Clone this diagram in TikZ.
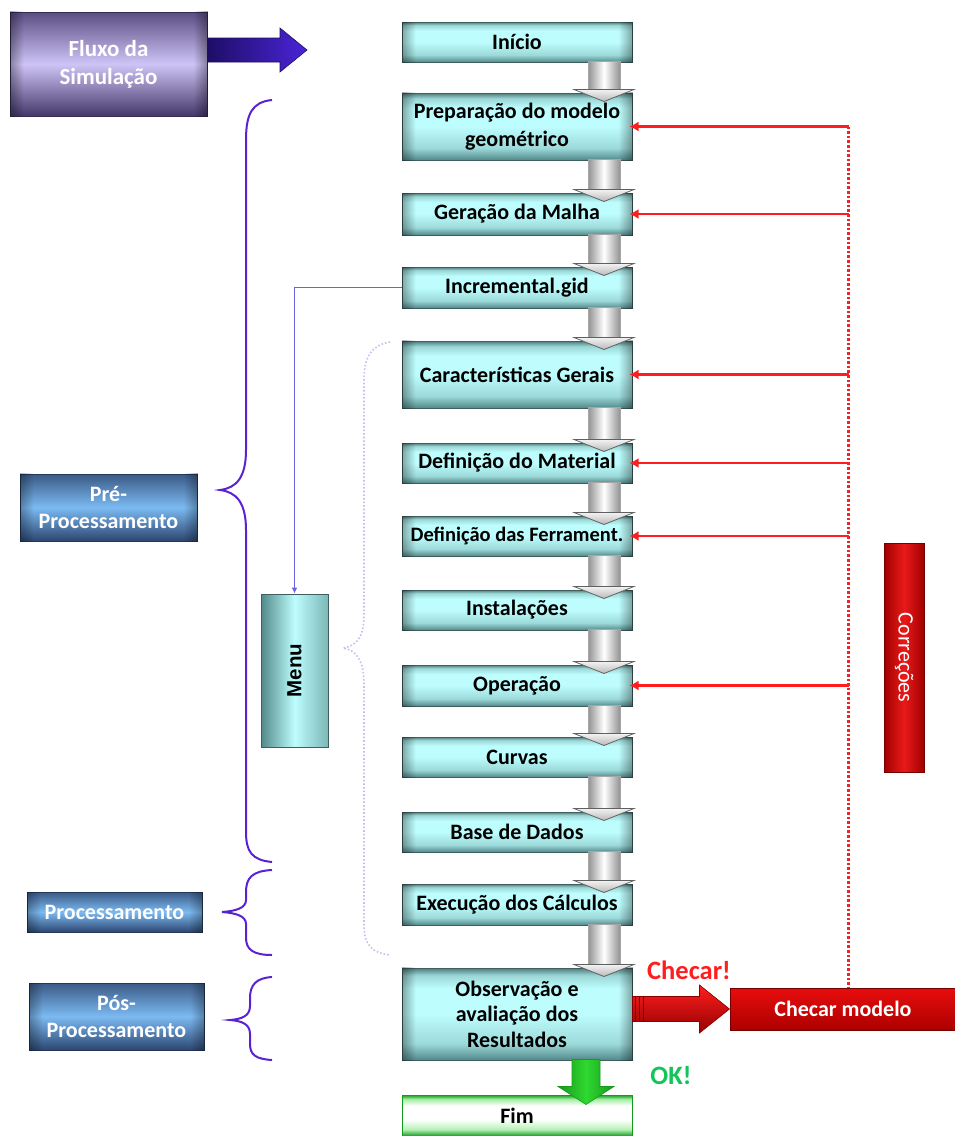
\documentclass[tikz,border=0pt]{standalone}
\usepackage{fontspec}
\setmainfont{Carlito}
\newfontfamily\menufamily{Liberation Sans}
\usetikzlibrary{calc,fadings,arrows.meta}

\definecolor{stepedge}{HTML}{3E5F5E}
\definecolor{steptop}{HTML}{4C7C7B}
\definecolor{steplight}{HTML}{BDFDFD}
\definecolor{stepbot}{HTML}{52898A}
\definecolor{labtop}{HTML}{3A5A86}
\definecolor{lablight}{HTML}{7CBAF2}
\definecolor{labbot}{HTML}{2C4670}
\definecolor{fluxtop}{HTML}{5A4D82}
\definecolor{fluxlight}{HTML}{CFC4F6}
\definecolor{fluxbot}{HTML}{44386A}
\definecolor{bracecol}{HTML}{5A22D2}
\definecolor{menubrace}{HTML}{C6BDF0}
\definecolor{linkblue}{HTML}{6A62E0}
\definecolor{navyarrow}{HTML}{1E0E66}
\definecolor{violetarrow}{HTML}{4A24D8}
\definecolor{corrred}{HTML}{FF1E1E}
\definecolor{boxred}{HTML}{E60000}
\definecolor{darkred}{HTML}{760000}
\definecolor{okgreen}{HTML}{12C45A}
\definecolor{arrgreen}{HTML}{2FD82F}
\definecolor{arrgreendark}{HTML}{169A1E}

% step boxes: dark rim on top, wide pale band, darker towards the bottom
\pgfdeclareverticalshading{stepshade}{100bp}{%
  color(0bp)=(stepbot); color(25bp)=(stepbot); color(34bp)=(steplight!70!stepbot);
  color(50bp)=(steplight); color(64bp)=(steplight); color(71bp)=(steplight!70!steptop);
  color(75bp)=(steptop); color(100bp)=(steptop)}
\pgfdeclareverticalshading{fimshade}{100bp}{%
  color(0bp)=(arrgreendark); color(25bp)=(arrgreendark); color(33bp)=(arrgreen!35!white);
  color(45bp)=(white); color(62bp)=(white); color(70bp)=(arrgreen!45!white);
  color(75bp)=(arrgreendark); color(100bp)=(arrgreendark)}

\tikzfading[name=fadeR, left color=transparent!0, right color=transparent!100]
\tikzfading[name=fadeL, left color=transparent!100, right color=transparent!0]

\newcommand\stepfont{\fontsize{22}{28}\selectfont\bfseries}
\newcommand\labfont{\fontsize{22}{27}\selectfont\bfseries}

% darker rims on the left and right sides of a box
\newcommand\siderims[2]{%
  \fill[black, opacity=#2, path fading=fadeR] (#1.south west) rectangle ([xshift=14pt]#1.north west);
  \fill[black, opacity=#2, path fading=fadeL] ([xshift=-14pt]#1.south east) rectangle (#1.north east);}

% grey block arrow from one step down to the next
\newcommand\stepflow[2]{%
  \path[grayshaft] ($(#1.south)+(71,-1)$) rectangle ($(#2.north)+(103,-3)$);
  \path[grayhead] ($(#2.north)+(57,-3)$) -- ($(#2.north)+(117,-3)$) -- ($(#2.north)+(87,9)$) -- cycle;}

\begin{document}
\begin{tikzpicture}[x=1pt,y=-1pt,
  stepbox/.style={draw=stepedge, line width=1pt, minimum width=230pt,
    shading=stepshade, font=\stepfont, text=black, align=center, inner sep=2pt},
  phasebox/.style={draw=labbot!80!black, line width=1pt,
    top color=labtop, bottom color=labbot, middle color=lablight,
    font=\labfont, text=white, align=center, inner sep=2pt, minimum width=175pt},
  grayshaft/.style={left color=gray!85, right color=gray!85, middle color=white, draw=gray!70, line width=.5pt},
  grayhead/.style={top color=gray!10, bottom color=gray!55, draw=gray!75!black, line width=.8pt},
  corr/.style={draw=corrred, line width=2.4pt, -{Latex[length=9pt,width=10pt]}},
  rail/.style={draw=corrred, line width=2.6pt, dotted},
  brace/.style={draw=bracecol, line width=2pt},
  menubr/.style={draw=menubrace, line width=1.6pt, dotted},
]
\useasboundingbox (0,0) rectangle (954,1136);

% ---------- left column: phases ----------
\node[draw=fluxbot!80!black, line width=1pt, top color=fluxtop, bottom color=fluxbot,
      middle color=fluxlight, minimum width=197pt, minimum height=104pt,
      font=\fontsize{23}{28}\selectfont\bfseries, text=white, align=center]
      (fluxo) at (108.5,64) {Fluxo da\\Simulação};
\siderims{fluxo}{.35}
\coordinate (fluxotip) at (307,50);
\coordinate (fa) at ($(fluxo.east)+(0,-14)$);
\path[left color=navyarrow, right color=violetarrow, draw=navyarrow, line width=.6pt]
  ($(fa)+(0,-12)$) -- ($(fluxotip)+(-27,-12)$) -- ($(fluxotip)+(-27,-22)$) -- (fluxotip)
  -- ($(fluxotip)+(-27,22)$) -- ($(fluxotip)+(-27,12)$) -- ($(fa)+(0,12)$) -- cycle;

\node[phasebox, minimum width=177pt, minimum height=67pt] (pre) at (108.5,507.5) {Pré-\\Processamento};
\node[phasebox, minimum height=40pt] (proc) at (114.5,912) {Processamento};
\node[phasebox, minimum height=67pt] (pos) at (116.5,1016.5) {Pós-\\Processamento};
\siderims{pre}{.3}
\siderims{proc}{.3}
\siderims{pos}{.3}

% braces grouping the steps
\path[brace] (272,100) .. controls (252,102) and (246,114) .. (246,140) -- (246,450)
  .. controls (246,478) and (236,488) .. (220,490) .. controls (236,492) and (246,502) .. (246,530)
  -- (246,832) .. controls (246,852) and (252,860) .. (272,862);
\path[brace] (272,870) .. controls (252,871) and (246,878) .. (246,892) -- (246,900)
  .. controls (246,908) and (236,911) .. (222,912) .. controls (236,913) and (246,916) .. (246,924)
  -- (246,938) .. controls (246,950) and (254,955) .. (272,955);
\path[brace] (272,977) .. controls (256,978) and (250,985) .. (250,998) -- (250,1006)
  .. controls (250,1016) and (242,1019) .. (230,1020) .. controls (242,1021) and (250,1024) .. (250,1034)
  -- (250,1044) .. controls (250,1055) and (256,1059) .. (272,1060);

% ---------- main column: steps ----------
\node[stepbox, minimum height=40pt] (n1)  at (517,42)    {Início};
\node[stepbox, minimum height=67pt] (n2)  at (517,126.5) {Preparação do modelo\\geométrico};
\node[stepbox, minimum height=42pt] (n3)  at (517,214)   {Geração da Malha};
\node[stepbox, minimum height=41pt] (n4)  at (517,287.5) {Incremental.gid};
\node[stepbox, minimum height=67pt] (n5)  at (517,374.5) {Características Gerais};
\node[stepbox, minimum height=40pt] (n6)  at (517,463)   {Definição do Material};
\node[stepbox, minimum height=40pt, inner xsep=0pt, font=\fontsize{20.5}{26}\selectfont\bfseries]
      (n7)  at (517,536)   {Definição das Ferrament.};
\node[stepbox, minimum height=40pt] (n8)  at (517,610)   {Instalações};
\node[stepbox, minimum height=41pt] (n9)  at (517,685.5) {Operação};
\node[stepbox, minimum height=40pt] (n10) at (517,757)   {Curvas};
\node[stepbox, minimum height=40pt] (n11) at (517,832)   {Base de Dados};
\node[stepbox, minimum height=41pt] (n12) at (517,904.5) {Execução dos Cálculos};
\node[stepbox, minimum height=92pt, font=\fontsize{22}{25.5}\selectfont\bfseries] (obs) at (517,1014)
  {Observação e\\avaliação dos\\Resultados};
\node[draw=arrgreendark, line width=1pt, minimum width=230pt, minimum height=41pt,
      shading=fimshade, font=\stepfont, text=black] (fim) at (517,1115.5) {Fim};

\foreach \n in {n1,n2,n3,n4,n5,n6,n7,n8,n9,n10,n11,n12,obs}{\siderims{\n}{.35}}

\stepflow{n1}{n2}
\stepflow{n2}{n3}
\stepflow{n3}{n4}
\stepflow{n4}{n5}
\stepflow{n5}{n6}
\stepflow{n6}{n7}
\stepflow{n7}{n8}
\stepflow{n8}{n9}
\stepflow{n9}{n10}
\stepflow{n10}{n11}
\stepflow{n11}{n12}
\stepflow{n12}{obs}

% ---------- menu ----------
\node[draw=stepedge, line width=1pt, minimum width=67pt, minimum height=153pt,
      left color=stepbot, right color=stepbot!60!steplight, middle color=steplight]
      (menu) at (294.5,670.5) {};
\node[rotate=90, font=\menufamily\fontsize{20.5}{22}\selectfont\bfseries, text=black] (menutxt) at (menu.center) {Menu};
\draw[linkblue, line width=1.4pt, -{Latex[length=6pt,width=6pt]}] (n4.west) -| (menu.north);
\path[menubr] (390,342) .. controls (372,345) and (364,356) .. (364,380) -- (364,615)
  .. controls (364,638) and (356,646) .. (343,648) .. controls (356,650) and (364,660) .. (364,684)
  -- (364,925) .. controls (364,945) and (372,953) .. (390,955);

% ---------- check and corrections ----------
\node[draw=darkred, line width=1pt, minimum width=226pt, minimum height=42pt,
      top color=boxred!95!white, bottom color=boxred!75!black,
      font=\fontsize{22}{24}\selectfont\bfseries, text=white] (chk) at (843,1009) {Checar modelo};
\node[draw=darkred, line width=1pt, minimum width=40pt, minimum height=229pt,
      left color=boxred!70!black, right color=boxred!70!black, middle color=boxred!90!white]
      (cor) at (904,657.5) {};
\node[rotate=-90, font=\fontsize{22}{24}\selectfont, text=white] (cortxt) at (cor.center) {Correções};

\coordinate (railtop) at ($(n2.east)+(216,0)$);
\path[rail] (railtop) -- (railtop |- chk.north);
\foreach \n in {n2,n3,n5,n6,n7,n9}{
  \draw[corr] (railtop |- \n.east) -- ([xshift=-3pt]\n.east);
}

\coordinate (cs) at (obs.east |- chk.west);
\path[top color=corrred, bottom color=boxred!65!black, draw=boxred!60!black, line width=.6pt]
  ($(cs)+(0,-12.5)$) -- ($(chk.west)+(-30,-12.5)$) -- ($(chk.west)+(-30,-24)$) -- (chk.west)
  -- ($(chk.west)+(-30,24)$) -- ($(chk.west)+(-30,12.5)$) -- ($(cs)+(0,12.5)$) -- cycle;
\foreach \dx in {3,7,11}{
  \draw[darkred, line width=1.6pt] ($(cs)+(\dx,-12)$) -- ($(cs)+(\dx,12)$);
}
\node[font=\fontsize{26.5}{28}\selectfont\bfseries, text=corrred] (chklab) at (689,970) {Checar!};

\path[left color=arrgreendark, right color=arrgreendark, middle color=arrgreen, draw=arrgreendark, line width=.6pt]
  ($(obs.south)+(55,-1)$) -- ($(fim.north)+(55,-8)$) -- ($(fim.north)+(41,-8)$) -- ($(fim.north)+(69,10)$)
  -- ($(fim.north)+(97,-8)$) -- ($(fim.north)+(83,-8)$) -- ($(obs.south)+(83,-1)$) -- cycle;
\node[font=\fontsize{26.5}{28}\selectfont\bfseries, text=okgreen] (oklab) at (671,1076) {OK!};
\end{tikzpicture}
\end{document}
